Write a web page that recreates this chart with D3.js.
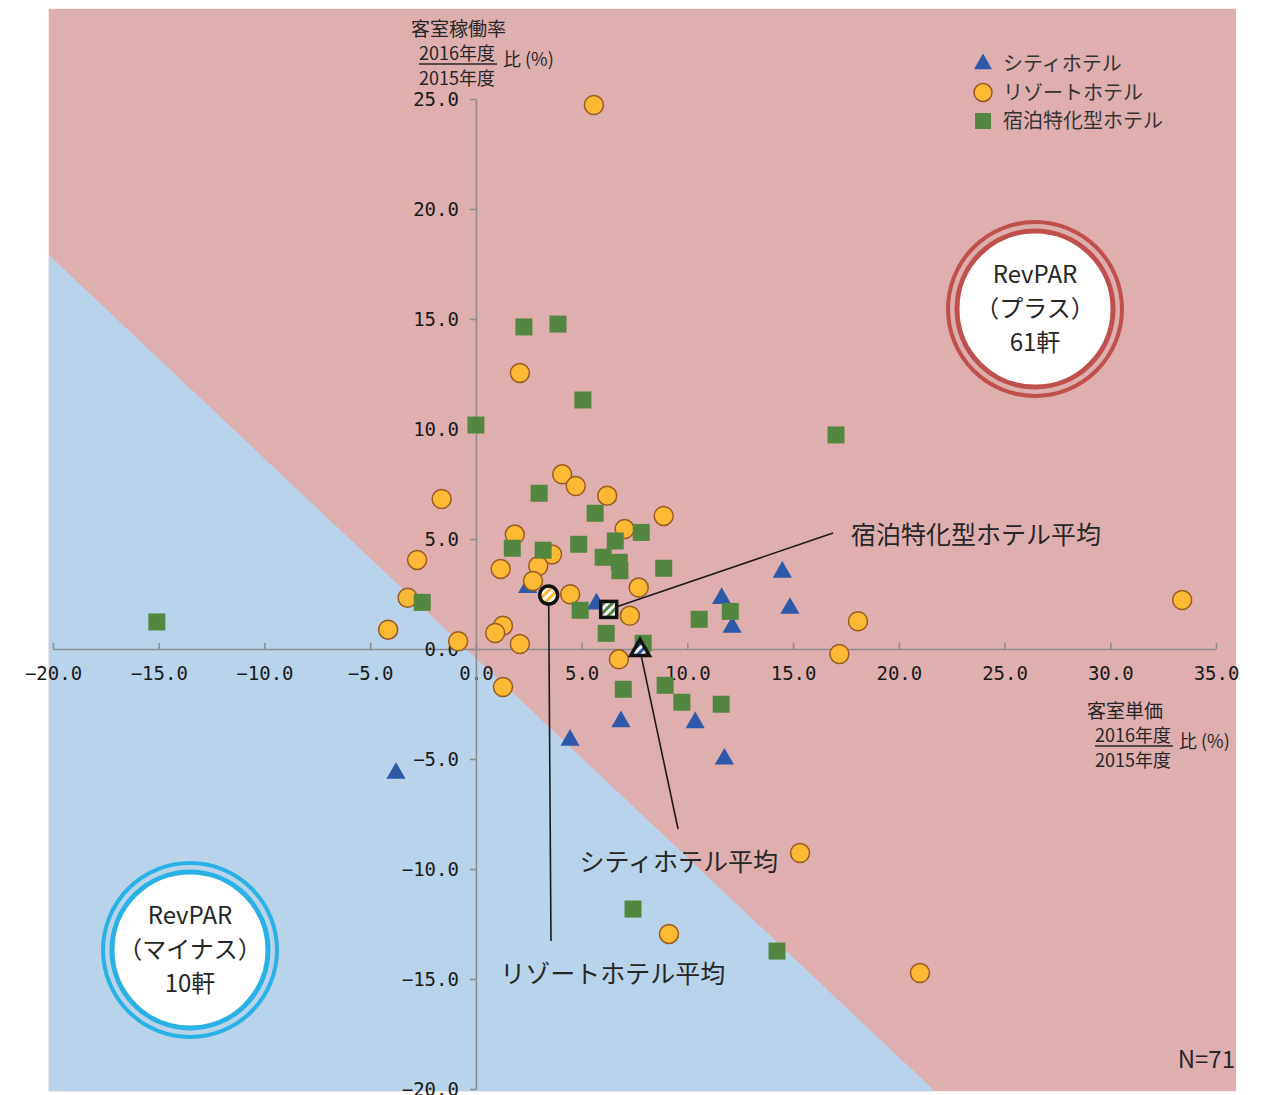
<!DOCTYPE html>
<html>
<head>
<meta charset="utf-8">
<script src="https://cdn.jsdelivr.net/npm/d3@7"></script>
<style>
  body { margin: 0; background: #fff; }
  svg { display: block; }
</style>
</head>
<body>
<div id="chart"></div>
<script>
// 客室単価比 (x) / 客室稼働率比 (y), %
const cityHotels = [
  [2.45, 2.8], [5.7, 2.05], [6.86, -3.3], [10.37, -3.35], [11.62, 2.3],
  [12.12, 0.99], [14.49, 3.49], [14.85, 1.85], [11.75, -5.0], [4.45, -4.14],
  [-3.78, -5.65]
];
const resortHotels = [
  [-1.62, 6.82], [4.08, 7.94], [4.72, 7.41], [6.21, 6.97], [8.88, 6.05],
  [7.03, 5.45], [1.84, 5.2], [-2.78, 4.05], [3.6, 4.3], [2.95, 3.77],
  [1.17, 3.64], [2.7, 3.09], [-3.23, 2.33], [4.46, 2.49], [7.7, 2.79],
  [7.28, 1.51], [-4.15, 0.88], [-0.84, 0.35], [1.28, 1.06], [0.91, 0.73],
  [2.08, 0.23], [6.76, -0.47], [1.28, -1.73], [5.58, 24.73], [2.08, 12.55],
  [33.4, 2.23], [18.07, 1.26], [17.19, -0.23], [15.33, -9.27], [9.13, -12.95],
  [21.0, -14.73]
];
const budgetHotels = [
  [2.99, 7.08], [5.64, 6.17], [7.82, 5.3], [6.59, 4.91], [4.86, 4.76],
  [1.72, 4.58], [3.18, 4.49], [6.02, 4.17], [6.78, 3.94], [6.81, 3.56],
  [8.88, 3.67], [-2.54, 2.12], [4.93, 1.76], [6.16, 0.71], [7.91, 0.26],
  [6.97, -1.83], [8.95, -1.65], [9.74, -2.42], [10.56, 1.35], [2.27, 14.64],
  [3.88, 14.77], [5.06, 11.32], [0.0, 10.18], [17.03, 9.73], [-15.09, 1.23],
  [12.03, 1.71], [11.6, -2.51], [7.43, -11.82], [14.24, -13.73]
];
const averages = { city: [7.76, -0.05], resort: [3.44, 2.45], budget: [6.28, 1.8] };

const xTicks = [-20, -15, -10, -5, 0, 5, 10, 15, 20, 25, 30, 35];
const yTicks = [-20, -15, -10, -5, 0, 5, 10, 15, 20, 25];
const seriesNames = ['シティホテル', 'リゾートホテル', '宿泊特化型ホテル'];

// plot background extents and plus/minus border (data units)
const plotExtent = { x0: -20.2, x1: 35.95, y0: -20.1, y1: 29.1 };
const minusBorder = [[-20.2, 17.91], [21.71, -20.1]];

const W = 1274, H = 1095;
const colors = {
  plus: '#dfafb0', minus: '#b8d3ea',
  city: '#2e58a8', resort: '#fdb933', resortStroke: '#9a5b22', budget: '#538740',
  axis: '#8c8c8c', text: '#262626'
};
const jp = '"Noto Sans CJK JP", "Noto Sans", sans-serif';

const svg = d3.select('#chart').append('svg')
  .attr('width', W).attr('height', H);

const x = d3.scaleLinear().domain([-20, 35]).range([53, 1216]);
const y = d3.scaleLinear().domain([-20, 25]).range([1089, 99]);

const defs = svg.append('defs');
function stripes(id, color) {
  const p = defs.append('pattern').attr('id', id)
    .attr('patternUnits', 'userSpaceOnUse')
    .attr('width', 6).attr('height', 6)
    .attr('patternTransform', 'rotate(45)');
  p.append('rect').attr('width', 6).attr('height', 6).attr('fill', '#fff');
  p.append('rect').attr('width', 3).attr('height', 6).attr('fill', color);
}
stripes('st-city', colors.city);
stripes('st-resort', colors.resort);
stripes('st-budget', colors.budget);

// backgrounds
svg.append('rect')
  .attr('x', x(plotExtent.x0)).attr('y', y(plotExtent.y1))
  .attr('width', x(plotExtent.x1) - x(plotExtent.x0))
  .attr('height', y(plotExtent.y0) - y(plotExtent.y1))
  .attr('fill', colors.plus);

const minusPoly = [[plotExtent.x0, minusBorder[0][1]], minusBorder[1], [plotExtent.x0, plotExtent.y0]];
svg.append('path')
  .attr('d', d3.line().x(d => x(d[0])).y(d => y(d[1]))(minusPoly) + 'Z')
  .attr('fill', colors.minus);

// axes
const xAxis = svg.append('g')
  .attr('transform', `translate(0,${y(0)})`)
  .call(d3.axisBottom(x).tickValues(xTicks).tickFormat(d3.format('.1f'))
    .tickSizeInner(-6).tickSizeOuter(0).tickPadding(18));
const yAxis = svg.append('g')
  .attr('transform', `translate(${x(0)},0)`)
  .call(d3.axisLeft(y).tickValues(yTicks).tickFormat(d3.format('.1f'))
    .tickSizeInner(6).tickSizeOuter(0).tickPadding(11));

[xAxis, yAxis].forEach(a => {
  a.selectAll('path, line').attr('stroke', colors.axis).attr('stroke-width', 1.6);
  a.selectAll('text')
    .attr('fill', '#1a1a1a')
    .style('font-family', '"DejaVu Sans Mono", monospace')
    .style('font-size', '19px');
});

// axis titles
function axisTitle(left, top, name) {
  const g = svg.append('g').attr('transform', `translate(${left},${top})`)
    .style('font-family', jp).style('font-size', '18px').attr('fill', colors.text);
  g.append('text').attr('x', -8).attr('y', 0).attr('dy', '0.35em')
    .style('font-size', '19px').text(name);
  g.append('text').attr('x', 0).attr('y', 25).attr('dy', '0.35em').text('2016年度');
  g.append('line').attr('x1', 0).attr('x2', 78).attr('y1', 35).attr('y2', 35)
    .attr('stroke', colors.text).attr('stroke-width', 1.5);
  g.append('text').attr('x', 84).attr('y', 31).attr('dy', '0.35em').text('比 (%)');
  g.append('text').attr('x', 0).attr('y', 50).attr('dy', '0.35em').text('2015年度');
}
axisTitle(419, 29, '客室稼働率');
axisTitle(1095, 711, '客室単価');

// annotation leader lines (drawn under markers)
const notes = [
  { from: averages.budget, to: [16.89, 5.27], label: '宿泊特化型ホテル平均', tx: 17.74, ty: 5.18 },
  { from: averages.city, to: [9.56, -8.18], label: 'シティホテル平均', tx: 4.9, ty: -9.68 },
  { from: averages.resort, to: [3.55, -13.27], label: 'リゾートホテル平均', tx: 1.15, ty: -14.8 }
];
svg.append('g').selectAll('line').data(notes).join('line')
  .attr('x1', d => x(d.from[0])).attr('y1', d => y(d.from[1]))
  .attr('x2', d => x(d.to[0])).attr('y2', d => y(d.to[1]))
  .attr('stroke', '#1a1a1a').attr('stroke-width', 1.6);
svg.append('g').selectAll('text').data(notes).join('text')
  .attr('x', d => x(d.tx)).attr('y', d => y(d.ty)).attr('dy', '0.35em')
  .style('font-family', jp).style('font-size', '25px').attr('fill', colors.text)
  .text(d => d.label);

// markers
const tri = d3.symbol().type(d3.symbolTriangle).size(160);
const sq = 17;

svg.append('g').selectAll('path').data(cityHotels).join('path')
  .attr('d', tri)
  .attr('transform', d => `translate(${x(d[0])},${y(d[1])})`)
  .attr('fill', colors.city);

svg.append('g').selectAll('circle').data(resortHotels).join('circle')
  .attr('cx', d => x(d[0])).attr('cy', d => y(d[1])).attr('r', 9.5)
  .attr('fill', colors.resort).attr('stroke', colors.resortStroke).attr('stroke-width', 1.5);

svg.append('g').selectAll('rect').data(budgetHotels).join('rect')
  .attr('x', d => x(d[0]) - sq / 2).attr('y', d => y(d[1]) - sq / 2)
  .attr('width', sq).attr('height', sq)
  .attr('fill', colors.budget);

// averages
svg.append('path')
  .attr('d', d3.symbol().type(d3.symbolTriangle).size(150)())
  .attr('transform', `translate(${x(averages.city[0])},${y(averages.city[1])})`)
  .attr('fill', 'url(#st-city)').attr('stroke', '#111').attr('stroke-width', 3.5);
svg.append('circle')
  .attr('cx', x(averages.resort[0])).attr('cy', y(averages.resort[1])).attr('r', 9)
  .attr('fill', 'url(#st-resort)').attr('stroke', '#111').attr('stroke-width', 3.5);
svg.append('rect')
  .attr('x', x(averages.budget[0]) - 8).attr('y', y(averages.budget[1]) - 8)
  .attr('width', 16).attr('height', 16)
  .attr('fill', 'url(#st-budget)').attr('stroke', '#111').attr('stroke-width', 3.5);

// legend
const legend = svg.append('g').attr('transform', 'translate(983,64)');
const items = legend.selectAll('g').data(seriesNames).join('g')
  .attr('transform', (d, i) => `translate(0,${i * 28.5})`);
items.each(function (d, i) {
  const g = d3.select(this);
  if (i === 0) g.append('path').attr('d', d3.symbol().type(d3.symbolTriangle).size(140)()).attr('fill', colors.city);
  if (i === 1) g.append('circle').attr('r', 9).attr('fill', colors.resort).attr('stroke', colors.resortStroke).attr('stroke-width', 1.5);
  if (i === 2) g.append('rect').attr('x', -8).attr('y', -8).attr('width', 16).attr('height', 16).attr('fill', colors.budget);
  g.append('text').attr('x', 20).attr('dy', '0.35em')
    .style('font-family', jp).style('font-size', '20px').attr('fill', '#333')
    .text(d);
});

// RevPAR badges
function badge(cx, cy, ring, lines) {
  const g = svg.append('g').attr('transform', `translate(${cx},${cy})`);
  g.append('circle').attr('r', 87).attr('fill', 'none').attr('stroke', ring).attr('stroke-width', 4);
  g.append('circle').attr('r', 78).attr('fill', '#fff').attr('stroke', ring).attr('stroke-width', 5);
  g.selectAll('text').data(lines).join('text')
    .attr('y', (d, i) => (i - 1) * 34).attr('dy', '0.35em')
    .attr('text-anchor', 'middle')
    .style('font-family', jp).style('font-size', '24px').attr('fill', colors.text)
    .text(d => d);
}
badge(1035, 309, '#c0504d', ['RevPAR', '（プラス）', '61軒']);
badge(190, 950, '#29b1e6', ['RevPAR', '（マイナス）', '10軒']);

svg.append('text')
  .attr('x', 1235).attr('y', 1060).attr('dy', '0.35em').attr('text-anchor', 'end')
  .style('font-family', jp).style('font-size', '24px').attr('fill', colors.text)
  .text('N=71');
</script>
</body>
</html>
